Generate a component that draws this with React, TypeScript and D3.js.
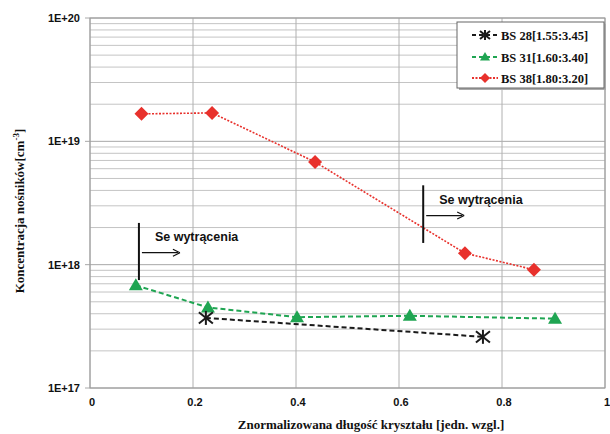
import React from "react";
import * as d3 from "d3";

const xTicks = [0, 0.2, 0.4, 0.6, 0.8, 1];
const xTickLabels = ["0", "0.2", "0.4", "0.6", "0.8", "1"];
const yTicks = [1e17, 1e18, 1e19, 1e20];
const yTickLabels = ["1E+17", "1E+18", "1E+19", "1E+20"];

const bs28X = [0.225, 0.763];
const bs28Y = [3.7e17, 2.6e17];
const bs31X = [0.089, 0.229, 0.402, 0.621, 0.903];
const bs31Y = [6.8e17, 4.5e17, 3.75e17, 3.85e17, 3.65e17];
const bs38X = [0.1, 0.237, 0.437, 0.728, 0.862];
const bs38Y = [1.67e19, 1.7e19, 6.8e18, 1.24e18, 9.1e17];

const seriesNames = ["BS 28[1.55:3.45]", "BS 31[1.60:3.40]", "BS 38[1.80:3.20]"];
const annotX = [0.095, 0.647];
const annotYTop = [2.18e18, 4.4e18];
const annotYBot = [7.5e17, 1.5e18];
const annotYArrow = [1.25e18, 2.5e18];
const annotText = "Se wytrącenia";

const W = 610, H = 434;
const L = 90, R = 605, T = 18, B = 388;

export default function App() {
  const x = d3.scaleLinear().domain([0, 1]).range([L, R]);
  const y = d3.scaleLog().domain([1e17, 1e20]).range([B, T]);

  const minor: number[] = [];
  for (let e = 17; e < 20; e++) for (let m = 2; m <= 9; m++) minor.push(m * Math.pow(10, e));

  const line = d3.line<[number, number]>().x(d => x(d[0])).y(d => y(d[1]));
  const zip = (xs: number[], ys: number[]) => xs.map((v, i) => [v, ys[i]] as [number, number]);

  const red = "#e8312c";
  const green = "#1fa552";
  const black = "#1a1a1a";

  const diamond = (cx: number, cy: number, k: number | string) => (
    <path key={k} d={`M${cx},${cy - 7}L${cx + 7},${cy}L${cx},${cy + 7}L${cx - 7},${cy}Z`} fill={red} />
  );
  const tri = (cx: number, cy: number, k: number | string) => (
    <path key={k} d={`M${cx},${cy - 7}L${cx + 7},${cy + 5}L${cx - 7},${cy + 5}Z`} fill={green} />
  );
  const star = (cx: number, cy: number, k: number | string, s = 7) => (
    <g key={k} stroke={black} strokeWidth={2}>
      <line x1={cx - s} y1={cy - s * 0.8} x2={cx + s} y2={cy + s * 0.8} />
      <line x1={cx - s} y1={cy + s * 0.8} x2={cx + s} y2={cy - s * 0.8} />
      <line x1={cx} y1={cy - s} x2={cx} y2={cy + s} />
    </g>
  );

  const tickFont = { fontFamily: "Liberation Sans, Arial, sans-serif", fontWeight: 700, fontSize: 11 };
  const serif = "Liberation Serif, Times New Roman, serif";

  const legX = 457, legY = 22, legW = 147, legH = 66;
  const legRows = [35, 57, 78];

  return (
    <svg width={W} height={H} style={{ position: "absolute", left: 0, top: 0, background: "#fff" }}>
      <rect x={0} y={0} width={W} height={H} fill="#fff" />
      {minor.map((v, i) => (
        <line key={"m" + i} x1={L} x2={R} y1={y(v)} y2={y(v)} stroke="#c4c4c4" strokeWidth={1} />
      ))}
      {yTicks.map((v, i) => (
        <line key={"M" + i} x1={L - 5} x2={R} y1={y(v)} y2={y(v)} stroke="#a8a8a8" strokeWidth={1} />
      ))}
      {xTicks.map((v, i) => (
        <line key={"v" + i} x1={x(v)} x2={x(v)} y1={T} y2={B} stroke="#b0b0b0" strokeWidth={1} />
      ))}
      <rect x={L} y={T} width={R - L} height={B - T} fill="none" stroke="#9a9a9a" strokeWidth={1} />

      {yTicks.map((v, i) => (
        <text key={"yt" + i} x={80} y={y(v) + 4} textAnchor="end" {...tickFont} fill="#111">
          {yTickLabels[i]}
        </text>
      ))}
      {xTicks.map((v, i) => (
        <text key={"xt" + i} x={x(v) + 2} y={406} textAnchor="middle" {...tickFont} fill="#111">
          {xTickLabels[i]}
        </text>
      ))}

      <text x={371} y={429} textAnchor="middle" fontFamily={serif} fontWeight={700} fontSize={13} fill="#111">
        Znormalizowana długość kryształu [jedn. wzgl.]
      </text>
      <text transform={`translate(24,${(T + B) / 2 + 8}) rotate(-90)`} textAnchor="middle" fontFamily={serif} fontWeight={700} fontSize={13} fill="#111">
        Koncentracja nośników[cm<tspan dy={-5} fontSize={9}>-3</tspan><tspan dy={5}>]</tspan>
      </text>

      <path d={line(zip(bs38X, bs38Y)) || ""} fill="none" stroke={red} strokeWidth={1.6} strokeDasharray="2,1.5" />
      <path d={line(zip(bs31X, bs31Y)) || ""} fill="none" stroke={green} strokeWidth={2} strokeDasharray="5,3" />
      <path d={line(zip(bs28X, bs28Y)) || ""} fill="none" stroke={black} strokeWidth={2} strokeDasharray="5,3" />

      {bs38X.map((v, i) => diamond(x(v), y(bs38Y[i]), "d" + i))}
      {bs31X.map((v, i) => tri(x(v), y(bs31Y[i]), "t" + i))}
      {bs28X.map((v, i) => star(x(v), y(bs28Y[i]), "s" + i))}

      {annotX.map((v, i) => {
        const ax = x(v);
        const ay = y(annotYArrow[i]);
        return (
          <g key={"a" + i}>
            <line x1={ax} x2={ax} y1={y(annotYTop[i])} y2={y(annotYBot[i])} stroke="#111" strokeWidth={2} />
            <line x1={ax + 3} x2={ax + 39} y1={ay} y2={ay} stroke="#111" strokeWidth={1.2} />
            <path d={`M${ax + 41},${ay}L${ax + 34},${ay - 3.5}M${ax + 41},${ay}L${ax + 34},${ay + 3.5}`} stroke="#111" strokeWidth={1.2} fill="none" />
            <text x={ax + 16} y={ay - 12} fontFamily="Liberation Sans, Arial, sans-serif" fontWeight={700} fontSize={12.5} fill="#111">
              {annotText}
            </text>
          </g>
        );
      })}

      <rect x={legX + 2} y={legY + 2} width={legW} height={legH} fill="#aaa" />
      <rect x={legX} y={legY} width={legW} height={legH} fill="#fff" stroke="#666" strokeWidth={1} />
      {legRows.map((ry, i) => {
        const lx1 = 472, lx2 = 498, cx = (lx1 + lx2) / 2;
        const col = [black, green, red][i];
        const dash = i === 2 ? "2,1.5" : "4,3";
        return (
          <g key={"l" + i}>
            <line x1={lx1} x2={lx2} y1={ry} y2={ry} stroke={col} strokeWidth={2} strokeDasharray={dash} />
            {i === 0 ? star(cx, ry, "ls", 5) : i === 1 ? (
              <path d={`M${cx},${ry - 5}L${cx + 5},${ry + 3.5}L${cx - 5},${ry + 3.5}Z`} fill={green} />
            ) : (
              <path d={`M${cx},${ry - 5}L${cx + 5},${ry}L${cx},${ry + 5}L${cx - 5},${ry}Z`} fill={red} />
            )}
            <text x={501} y={ry + 4.5} fontFamily={serif} fontWeight={700} fontSize={12.5} fill="#111">
              {seriesNames[i]}
            </text>
          </g>
        );
      })}
    </svg>
  );
}
